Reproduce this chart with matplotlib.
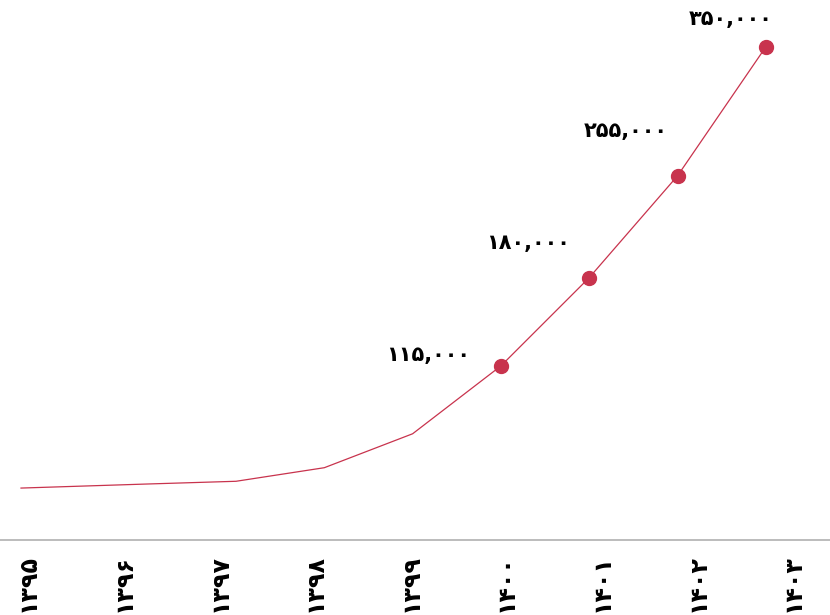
import matplotlib
matplotlib.use("Agg")
import matplotlib.pyplot as plt
import numpy as np

# Persian years and values
years = ["۱۳۹۵", "۱۳۹۶", "۱۳۹۷", "۱۳۹۸", "۱۳۹۹", "۱۴۰۰", "۱۴۰۱", "۱۴۰۲", "۱۴۰۳"]
values = [25000, 28000, 30000, 40000, 65000, 115000, 180000, 255000, 350000]
# the first point sits further left than the regular spacing in the reference
xpos = [-0.435, 1, 2, 3, 4, 5, 6, 7, 8]
marked = [5, 6, 7, 8]  # indices with a dot and a label
marked_labels = ["۱۱۵,۰۰۰", "۱۸۰,۰۰۰", "۲۵۵,۰۰۰", "۳۵۰,۰۰۰"]

color = "#c8334d"

fig = plt.figure(figsize=(8.3, 6.15), dpi=100)
ax = fig.add_axes([0, 75 / 615, 1, 540 / 615])

x = np.array(xpos)
y = np.array(values)
ax.plot(x, y, color=color, lw=0.9, zorder=2)
ax.plot(x[marked], y[marked], "o", color=color, ms=10, zorder=3)

# label offsets (points) relative to each dot
offsets = [(-22, 8), (-14, 25), (-7, 32), (5, 20)]
for i, lab, off in zip(marked, marked_labels, offsets):
    ax.annotate(lab, (x[i], y[i]), xytext=off, textcoords="offset points",
                ha="right", va="center", fontsize=15, fontweight="bold",
                family="DejaVu Sans", color="black")

ax.set_xlim(-0.673, 8.727)
ax.set_ylim(-13260, 384560)

# tick labels sit slightly off the data positions in the reference
ax.set_xticks(-0.356 + 1.083 * np.arange(len(years)))
ax.set_xticklabels(years, rotation=90, fontsize=17, fontweight="bold", family="DejaVu Sans")
ax.tick_params(axis="x", length=0, pad=10)
ax.set_yticks([])

for s in ["top", "left", "right"]:
    ax.spines[s].set_visible(False)
ax.spines["bottom"].set_color("#b0b0b0")
ax.spines["bottom"].set_linewidth(1.2)

fig.savefig("out.png", dpi=100)
